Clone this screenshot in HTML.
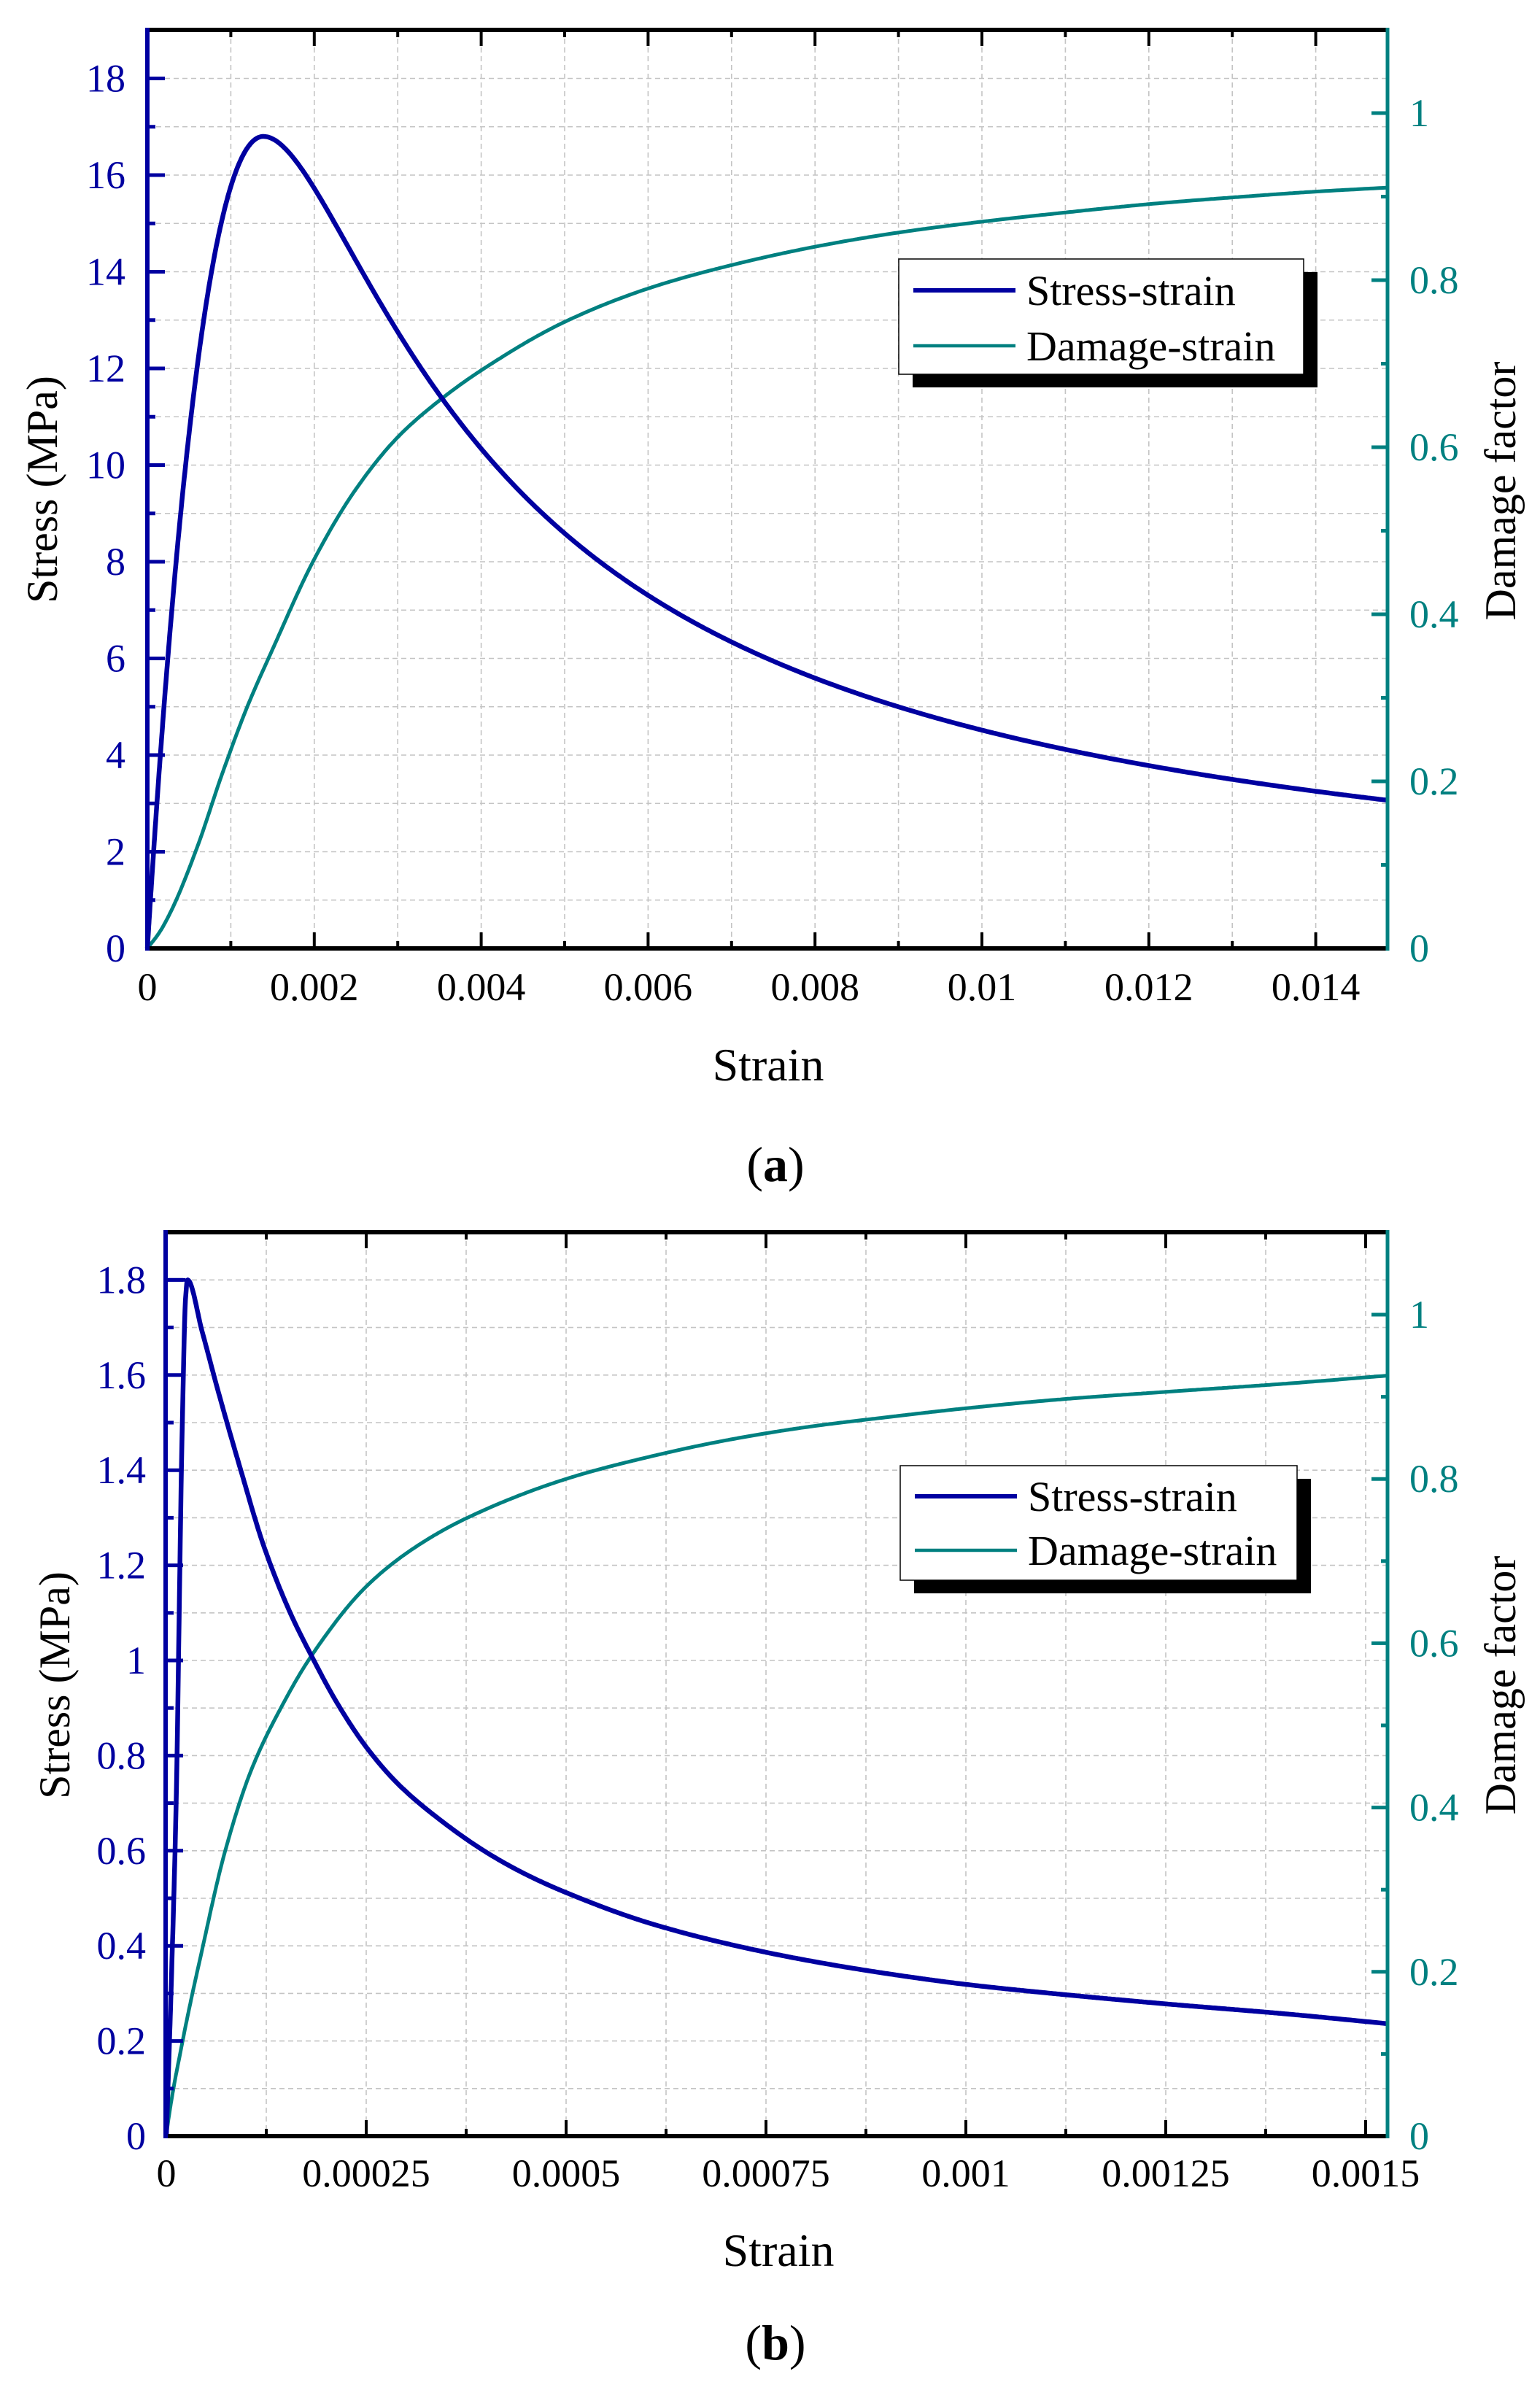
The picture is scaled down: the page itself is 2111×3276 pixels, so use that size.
<!DOCTYPE html>
<html><head><meta charset="utf-8"><style>
html,body{margin:0;padding:0;background:#fff;}
svg{display:block;}
text{font-family:"Liberation Serif",serif;}
</style></head><body>
<svg id="s" width="2111" height="3276" viewBox="0 0 2111 3276" xmlns="http://www.w3.org/2000/svg">
<rect width="2111" height="3276" fill="#fff"/>
<g id="g"></g>
<text x="1053" y="1481" font-size="64" text-anchor="middle">Strain</text>
<text x="1063" y="1619" font-size="68" text-anchor="middle">(<tspan font-weight="bold">a</tspan>)</text>
<text x="1067" y="3106" font-size="64" text-anchor="middle">Strain</text>
<text x="1063" y="3234" font-size="68" text-anchor="middle">(<tspan font-weight="bold">b</tspan>)</text>
<text transform="translate(78,671) rotate(-90)" font-size="60" text-anchor="middle">Stress (MPa)</text>
<text transform="translate(2077,673) rotate(-90)" font-size="60" text-anchor="middle">Damage factor</text>
<text transform="translate(95,2310) rotate(-90)" font-size="60" text-anchor="middle">Stress (MPa)</text>
<text transform="translate(2077,2310) rotate(-90)" font-size="60" text-anchor="middle">Damage factor</text>
</svg>
<script>
(function(){
var NS="http://www.w3.org/2000/svg",G=document.getElementById("g");
function el(t,a,txt){var e=document.createElementNS(NS,t);for(var k in a)e.setAttribute(k,a[k]);if(txt!=null)e.textContent=txt;G.appendChild(e);return e;}
var BLUE="#0000a0",TEAL="#008080";
function mono(P){
 var n=P.length,xs=P.map(function(p){return p[0];}),ys=P.map(function(p){return p[1];}),d=[],m=[];
 for(var i=0;i<n-1;i++)d.push((ys[i+1]-ys[i])/(xs[i+1]-xs[i]));
 m[0]=d[0];m[n-1]=d[n-2];
 for(var i=1;i<n-1;i++){if(d[i-1]*d[i]<=0)m[i]=0;else{var h0=xs[i]-xs[i-1],h1=xs[i+1]-xs[i];var w1=2*h1+h0,w2=h1+2*h0;m[i]=(w1+w2)/(w1/d[i-1]+w2/d[i]);}}
 return function(x){var i=0;while(i<n-2&&x>xs[i+1])i++;var h=xs[i+1]-xs[i],t=(x-xs[i])/h;
  var t2=t*t,t3=t2*t;return (2*t3-3*t2+1)*ys[i]+(t3-2*t2+t)*h*m[i]+(-2*t3+3*t2)*ys[i+1]+(t3-t2)*h*m[i+1];};
}
function sample(f,x1,x2,N,X,Y){var s="";for(var i=0;i<=N;i++){var v=x1+(x2-x1)*Math.pow(i/N,1.6);s+=(i?"L":"M")+X(v).toFixed(1)+","+Y(f(v)).toFixed(1);}return s;}
function plot(P){
 var L=P.L,R=P.R,T=P.T,B=P.B;
 var X=function(v){return P.x0+v*P.xs;},YL=function(v){return B-v*P.ys;},YR=function(v){return B-v*P.ds;};
 var xmax=(R-P.x0)/P.xs;
 for(var v=P.xminor;X(v)<R-2;v+=P.xminor){var x=X(v);el("line",{x1:x,y1:T,x2:x,y2:B,stroke:"#c4c4c4","stroke-width":1.6,"stroke-dasharray":"7,5"});}
 for(var i=1;YL(i*P.yminor)>T+2;i++){var y=YL(i*P.yminor);el("line",{x1:L,y1:y,x2:R,y2:y,stroke:"#c4c4c4","stroke-width":1.6,"stroke-dasharray":"7,5"});}
 el("path",{d:sample(P.dmg,0,xmax,700,X,YR),fill:"none",stroke:TEAL,"stroke-width":5});
 el("path",{d:sample(P.str,0,xmax,900,X,YL),fill:"none",stroke:BLUE,"stroke-width":6.5,"stroke-linejoin":"round"});
 if(P.plat)el("line",{x1:L,y1:YL(P.plat[1]),x2:X(P.plat[0]),y2:YL(P.plat[1]),stroke:BLUE,"stroke-width":5});
 el("line",{x1:L,y1:T,x2:R,y2:T,stroke:"#000","stroke-width":6});
 el("line",{x1:L,y1:B,x2:R,y2:B,stroke:"#000","stroke-width":6});
 el("line",{x1:L,y1:T-3,x2:L,y2:B+3,stroke:BLUE,"stroke-width":6});
 el("line",{x1:R,y1:T-3,x2:R,y2:B+3,stroke:TEAL,"stroke-width":5});
 var n=0;for(var v=P.xminor;X(v)<R-2;v+=P.xminor){n++;var x=X(v),len=(n%2==0)?22:10;
  el("line",{x1:x,y1:B,x2:x,y2:B-len,stroke:"#000","stroke-width":4});
  el("line",{x1:x,y1:T,x2:x,y2:T+len,stroke:"#000","stroke-width":4});}
 P.xlab.forEach(function(t,i){el("text",{x:X(i*P.xminor*2),y:P.xly,"font-size":54,"text-anchor":"middle"},t);});
 for(var i=1;YL(i*P.yminor)>T+2;i++){var y=YL(i*P.yminor);el("line",{x1:L,y1:y,x2:L+(i%2==0?24:11),y2:y,stroke:BLUE,"stroke-width":5});}
 P.ylab.forEach(function(t,i){el("text",{x:P.ylx,y:YL(i*P.yminor*2)+18,"font-size":54,"text-anchor":"end",fill:BLUE},t);});
 for(var i=1;i<=11;i++){var y=YR(i*0.1);if(y<T+2)break;el("line",{x1:R,y1:y,x2:R-(i%2==0?22:9),y2:y,stroke:TEAL,"stroke-width":5});}
 ["0","0.2","0.4","0.6","0.8","1"].forEach(function(t,i){el("text",{x:1932,y:YR(i*0.2)+18,"font-size":54,fill:TEAL},t);});
 var g=P.leg;
 el("rect",{x:g[0]+19,y:g[1]+18,width:g[2]-g[0],height:g[3]-g[1],fill:"#000"});
 el("rect",{x:g[0],y:g[1],width:g[2]-g[0],height:g[3]-g[1],fill:"#fff",stroke:"#000","stroke-width":1.5});
 el("line",{x1:g[0]+20,y1:P.ly1,x2:g[0]+160,y2:P.ly1,stroke:BLUE,"stroke-width":6});
 el("line",{x1:g[0]+20,y1:P.ly2,x2:g[0]+160,y2:P.ly2,stroke:TEAL,"stroke-width":4.5});
 el("text",{x:g[0]+175,y:P.ly1+20,"font-size":58},"Stress-strain");
 el("text",{x:g[0]+175,y:P.ly2+20,"font-size":58},"Damage-strain");
}
var ec=0.00139,fc=16.8,aa=2.3,ad=0.51;
function stressA(e){var r=e/ec;if(r<=1)return fc*(aa*r+(3-2*aa)*r*r+(aa-2)*r*r*r);return fc*r/(ad*(r-1)*(r-1)+r);}
plot({L:202,R:1902,T:41,B:1300,x0:202,xs:114400,ys:66.25,ds:1145,xminor:0.001,yminor:1,
 xlab:["0","0.002","0.004","0.006","0.008","0.01","0.012","0.014"],xly:1371,
 ylab:["0","2","4","6","8","10","12","14","16","18"],ylx:172,
 leg:[1232,355,1787,513],ly1:398,ly2:474,
 str:stressA,
 dmg:mono([[0,0],[0.00015,0.02],[0.0003,0.048],[0.0006,0.122],[0.0009,0.21],[0.0012,0.29],[0.0015,0.358],[0.002,0.466],[0.0025,0.55],[0.003,0.612],[0.0035,0.656],[0.004,0.692],[0.005,0.75],[0.006,0.79],[0.007,0.818],[0.008,0.84],[0.009,0.857],[0.01,0.87],[0.011,0.881],[0.012,0.891],[0.013,0.899],[0.014,0.906],[0.0149,0.911]])
});
plot({L:227,R:1902,T:1689,B:2928,x0:228,xs:1096000,ys:652,ds:1126,xminor:0.000125,yminor:0.1,
 xlab:["0","0.00025","0.0005","0.00075","0.001","0.00125","0.0015"],xly:2997,
 ylab:["0","0.2","0.4","0.6","0.8","1","1.2","1.4","1.6","1.8"],ylx:200,
 leg:[1234,2009,1778,2166],ly1:2051,ly2:2125,plat:[0.000024,1.8],
 str:mono([[0,0],[0.000006,0.31],[0.000012,0.68],[0.00002,1.5],[0.000024,1.76],[0.0000265,1.8],[0.000045,1.69],[0.000065,1.565],[0.000094,1.395],[0.000122,1.24],[0.000155,1.1],[0.000183,1.005],[0.000212,0.915],[0.00025,0.818],[0.00029,0.74],[0.00034,0.668],[0.0004,0.597],[0.00045,0.55],[0.0005,0.512],[0.0006,0.45],[0.0007,0.405],[0.0008,0.37],[0.0009,0.342],[0.001,0.319],[0.00112,0.298],[0.00125,0.278],[0.0014,0.257],[0.00153,0.236]]),
 dmg:mono([[0,0],[0.000002,0.016],[0.00002,0.114],[0.000045,0.228],[0.000073,0.345],[0.000106,0.445],[0.000147,0.528],[0.000181,0.584],[0.00025,0.669],[0.00031,0.716],[0.000375,0.752],[0.0005,0.8],[0.0006,0.826],[0.0007,0.847],[0.0008,0.863],[0.0009,0.875],[0.001,0.886],[0.00112,0.897],[0.00125,0.906],[0.0014,0.916],[0.00153,0.926]])
});
})();
</script>
</body></html>
